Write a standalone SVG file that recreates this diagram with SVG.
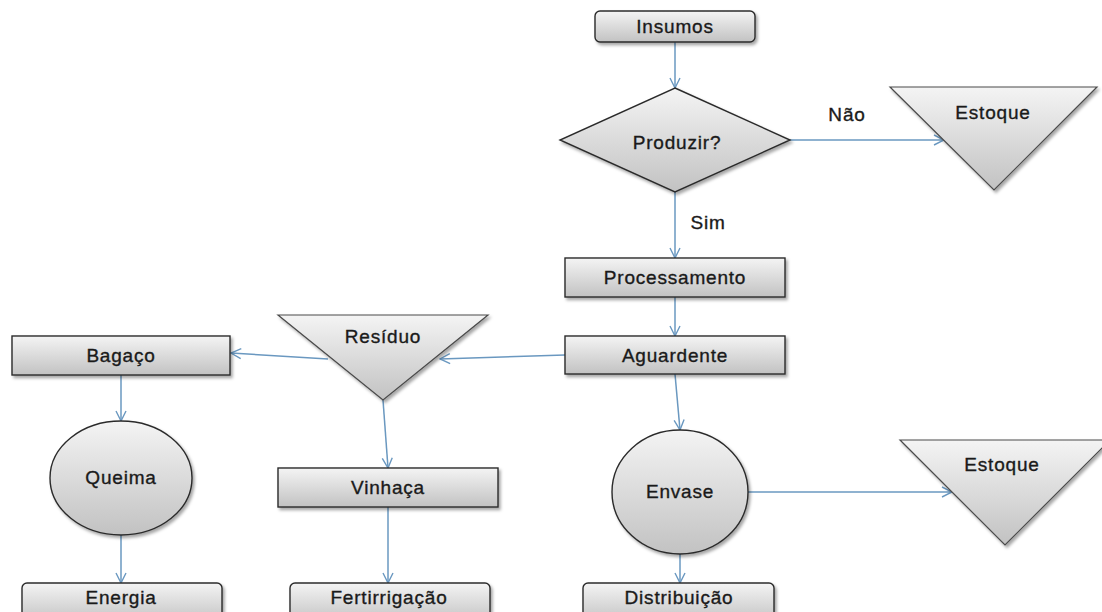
<svg xmlns="http://www.w3.org/2000/svg" width="1102" height="612" viewBox="0 0 1102 612">
  <style>
    .shape { fill: url(#g); stroke: #2b2b2b; stroke-width: 1.4; filter: url(#sh); }
    .tri { fill: url(#g); stroke: #4a4a4a; stroke-width: 1.2; filter: url(#sh); }
    .lbl { font-family: "Liberation Sans", Arial, sans-serif; font-size: 19px; letter-spacing: 0.8px; fill: #1a1a1a; stroke: #1a1a1a; stroke-width: 0.35; text-anchor: middle; }
    .conn line { stroke: #6a98c0; stroke-width: 1.5; fill: none; marker-end: url(#arr); }
  </style>
  <defs>
    <linearGradient id="g" x1="0" y1="0" x2="0" y2="1">
      <stop offset="0" stop-color="#f4f4f4"/>
      <stop offset="1" stop-color="#c2c2c2"/>
    </linearGradient>
    <filter id="sh" x="-10%" y="-10%" width="125%" height="130%">
      <feDropShadow dx="2" dy="2.5" stdDeviation="1.5" flood-color="#000" flood-opacity="0.35"/>
    </filter>
    <marker id="arr" viewBox="0 0 12 12" refX="11" refY="6" markerWidth="12" markerHeight="12" markerUnits="userSpaceOnUse" orient="auto">
      <path d="M1,1 L11,6 L1,11" fill="none" stroke="#6a98c0" stroke-width="1.4"/>
    </marker>
  </defs>
  <rect width="1102" height="612" fill="#ffffff"/>

  <g id="connectors" class="conn">
    <line x1="675" y1="42" x2="675" y2="88"/>
    <line x1="790" y1="140" x2="944" y2="140"/>
    <line x1="675" y1="192" x2="675" y2="258"/>
    <line x1="675" y1="297" x2="675" y2="336"/>
    <line x1="565" y1="355" x2="440" y2="359"/>
    <line x1="328" y1="359" x2="231" y2="353"/>
    <line x1="383" y1="400" x2="388" y2="468"/>
    <line x1="121" y1="375" x2="121" y2="421"/>
    <line x1="121" y1="535" x2="121" y2="583"/>
    <line x1="388" y1="507" x2="388" y2="583"/>
    <line x1="675" y1="374" x2="680" y2="430"/>
    <line x1="680" y1="554" x2="680" y2="583"/>
    <line x1="748" y1="492" x2="952" y2="492"/>
  </g>

  <g id="edge-labels">
    <text class="lbl" x="847" y="121">Não</text>
    <text class="lbl" x="708" y="229">Sim</text>
  </g>

  <g id="insumos">
    <rect class="shape" x="595" y="11" width="160" height="31" rx="5"/>
    <text class="lbl" x="675" y="33">Insumos</text>
  </g>
  <g id="produzir">
    <polygon class="shape" points="675,88 790,140 675,192 560,140"/>
    <text class="lbl" x="677" y="149">Produzir?</text>
  </g>
  <g id="estoque1">
    <polygon class="tri" points="890,87 1097,87 994,190"/>
    <text class="lbl" x="993" y="119">Estoque</text>
  </g>
  <g id="processamento">
    <rect class="shape" x="565" y="258" width="220" height="39"/>
    <text class="lbl" x="675" y="284">Processamento</text>
  </g>
  <g id="aguardente">
    <rect class="shape" x="565" y="336" width="220" height="38"/>
    <text class="lbl" x="675" y="362">Aguardente</text>
  </g>
  <g id="residuo">
    <polygon class="tri" points="278,315 488,315 383,400"/>
    <text class="lbl" x="383" y="343">Resíduo</text>
  </g>
  <g id="bagaco">
    <rect class="shape" x="12" y="336" width="218" height="39"/>
    <text class="lbl" x="121" y="362">Bagaço</text>
  </g>
  <g id="queima">
    <ellipse class="shape" cx="121" cy="478" rx="71" ry="57"/>
    <text class="lbl" x="121" y="484">Queima</text>
  </g>
  <g id="energia">
    <rect class="shape" x="22" y="583" width="200" height="40" rx="5"/>
    <text class="lbl" x="121" y="604">Energia</text>
  </g>
  <g id="vinhaca">
    <rect class="shape" x="278" y="468" width="220" height="39"/>
    <text class="lbl" x="388" y="494">Vinhaça</text>
  </g>
  <g id="fertirrigacao">
    <rect class="shape" x="290" y="583" width="200" height="40" rx="5"/>
    <text class="lbl" x="389" y="604">Fertirrigação</text>
  </g>
  <g id="envase">
    <ellipse class="shape" cx="680" cy="492" rx="68" ry="62"/>
    <text class="lbl" x="680" y="498">Envase</text>
  </g>
  <g id="distribuicao">
    <rect class="shape" x="583" y="583" width="191" height="40" rx="5"/>
    <text class="lbl" x="679" y="604">Distribuição</text>
  </g>
  <g id="estoque2">
    <polygon class="tri" points="900,440 1110,440 1005,545"/>
    <text class="lbl" x="1002" y="471">Estoque</text>
  </g>
</svg>
